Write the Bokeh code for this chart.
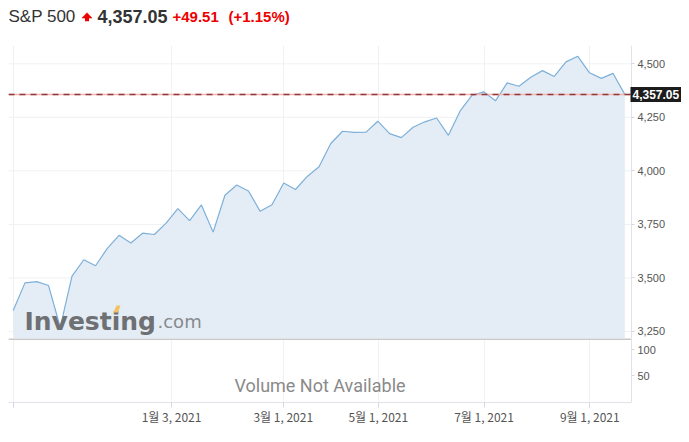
from bokeh.plotting import figure
from bokeh.models import (Range1d, LinearAxis, Grid, FixedTicker, NumeralTickFormatter,
                          Label, PolyAnnotation, ColumnDataSource)
from bokeh.layouts import column
from bokeh.embed import file_html
from bokeh.resources import INLINE

# ---------------- data ----------------
week_index = list(range(53))
close = [3348, 3477, 3483, 3465, 3270, 3509, 3585, 3557, 3638, 3699, 3663, 3709, 3703,
         3756, 3824, 3768, 3841, 3714, 3886, 3934, 3906, 3811, 3842, 3943, 3913, 3974,
         4019, 4128, 4185, 4180, 4181, 4232, 4174, 4155, 4204, 4229, 4247, 4166, 4280,
         4352, 4369, 4327, 4411, 4395, 4437, 4468, 4441, 4509, 4535, 4458, 4432, 4455,
         4357.05]
symbol = "S&P 500"
last_text = "4,357.05"
change_text = "+49.51"
change_pct_text = "(+1.15%)"
last_close = 4357.05
price_ticks = [3250, 3500, 3750, 4000, 4250, 4500]
date_tick_pos = [0, 13.46, 22.96, 31.04, 40.03, 49.02]
date_tick_labels = ["", "1월 3, 2021", "3월 1, 2021", "5월 1, 2021", "7월 1, 2021", "9월 1, 2021"]
volume_ticks = [50, 100]
volume_text = "Volume Not Available"

# ---------------- geometry ----------------
W = 681
LEFT = 8
PX_PER_WEEK = 11.762
XR = Range1d(-0.40, -0.40 + (W - LEFT) / PX_PER_WEEK)
AXIS_X = -0.40 + 623 / PX_PER_WEEK          # price axis sits at the plot's right edge
Y_MAIN = Range1d(3217.3, 4585.4)
Y_VOL = Range1d(-1.9, 121.2)

AXIS_LINE = "#e2e2ea"
GRID = "#f1f1f4"
LABEL_C = "#555555"
RED = "#ee0000"
TEXT_SHIFT = 6   # baseline correction for Label text

def base_fig(height, x_range, y_range, top=0, bottom=0):
    f = figure(width=W, height=height, x_range=x_range, y_range=y_range, title=None,
               x_axis_type=None, y_axis_type=None, toolbar_location=None,
               output_backend="svg", min_border_left=LEFT, min_border_right=0,
               min_border_top=top, min_border_bottom=bottom, outline_line_color=None)
    return f

# ---------------- header ----------------
hdr = base_fig(38, Range1d(LEFT, W), Range1d(38, 0))
hy = 22 - TEXT_SHIFT
hdr.add_layout(Label(x=8, y=hy, text=symbol, text_font="Liberation Sans",
                     text_font_size="17px", text_color="#333333", text_baseline="alphabetic"))
hdr.patch(x=[81.5, 86.5, 91.5], y=[17.6, 12.2, 17.6], fill_color=RED, line_color=RED, line_width=0.5)
hdr.quad(left=84.5, right=88.5, top=17, bottom=20.8, fill_color=RED, line_color=None)
hdr.add_layout(Label(x=97, y=hy, text=last_text, text_font="Liberation Sans",
                     text_font_style="bold", text_font_size="18px", text_color="#333333",
                     text_baseline="alphabetic"))
hdr.add_layout(Label(x=172, y=hy, text=change_text, text_font="Liberation Sans",
                     text_font_style="bold", text_font_size="15px", text_color=RED,
                     text_baseline="alphabetic"))
hdr.add_layout(Label(x=228, y=hy, text=change_pct_text, text_font="Liberation Sans",
                     text_font_style="bold", text_font_size="15px", text_color=RED,
                     text_baseline="alphabetic"))

# ---------------- main price pane ----------------
p = base_fig(300, XR, Y_MAIN, top=7, bottom=0)

p.add_layout(Grid(dimension=0, ticker=FixedTicker(ticks=date_tick_pos), grid_line_color=GRID))
p.segment(x0=XR.start, x1=AXIS_X, y0=price_ticks, y1=price_ticks, line_color=GRID, line_width=1)

src = ColumnDataSource(dict(x=week_index, y=close))
p.varea(x="x", y1=Y_MAIN.start, y2="y", source=src, fill_color="#e4edf5")
p.line(x="x", y="y", source=src, line_color="#7db0d9", line_width=1.2)

ax = LinearAxis(ticker=FixedTicker(ticks=price_ticks), formatter=NumeralTickFormatter(format="0,0"),
                fixed_location=AXIS_X,
                axis_line_color=AXIS_LINE, major_tick_line_color="#d6d6de", major_tick_in=0,
                major_tick_out=3, minor_tick_line_color=None, major_label_text_font="Liberation Sans",
                major_label_text_font_size="11px", major_label_text_color=LABEL_C,
                major_label_standoff=3)
p.add_layout(ax, "right")

p.segment(x0=XR.start, x1=AXIS_X, y0=last_close, y1=last_close, line_color="#f3b3b3", line_width=1.5)
p.segment(x0=XR.start, x1=AXIS_X, y0=last_close, y1=last_close, line_color="#8e3a3a",
          line_width=1.5, line_dash="6 5")

# watermark (page pixel -> data helpers)
def px_x(px):
    return -0.40 + (px - LEFT) / PX_PER_WEEK

def px_y(py):
    return 3250 + (331.0 - py) / 0.2142

p.add_layout(Label(x=px_x(24), y=px_y(327 - TEXT_SHIFT), text="Investing", text_font="DejaVu Sans",
                   text_font_style="bold", text_font_size="25px", text_color="#6e7073",
                   text_baseline="alphabetic"))
p.add_layout(Label(x=px_x(157), y=px_y(327 - TEXT_SHIFT), text=".com", text_font="DejaVu Sans",
                   text_font_size="18px", text_color="#878a8d", text_baseline="alphabetic"))
p.add_layout(PolyAnnotation(xs=[px_x(113), px_x(116), px_x(120), px_x(117.5)],
                            ys=[px_y(312), px_y(305), px_y(305), px_y(312)],
                            fill_color="#f2c160", fill_alpha=1, line_color=None))

p.add_layout(Label(x=AXIS_X, y=last_close, text=last_text, x_offset=-1, text_align="left",
                   text_baseline="middle", text_color="white", text_font="Liberation Sans",
                   text_font_style="bold", text_font_size="12px",
                   background_fill_color="#1c1c1c", padding=(2, 3)))

# ---------------- volume pane ----------------
v = base_fig(92, XR, Y_VOL, top=0, bottom=28)
v.add_layout(Grid(dimension=0, ticker=FixedTicker(ticks=date_tick_pos), grid_line_color=GRID))

vy = LinearAxis(ticker=FixedTicker(ticks=volume_ticks), fixed_location=AXIS_X,
                axis_line_color=AXIS_LINE,
                major_tick_line_color="#d6d6de", major_tick_in=0, major_tick_out=3,
                minor_tick_line_color=None, major_label_text_font="Liberation Sans",
                major_label_text_font_size="11px", major_label_text_color=LABEL_C,
                major_label_standoff=3)
v.add_layout(vy, "right")

bx = LinearAxis(ticker=FixedTicker(ticks=date_tick_pos), bounds=(XR.start, AXIS_X),
                major_label_overrides={t: l for t, l in zip(date_tick_pos, date_tick_labels)},
                axis_line_color=AXIS_LINE, major_tick_line_color="#d6d6de", major_tick_in=0,
                major_tick_out=5, minor_tick_line_color=None,
                major_label_text_font="Noto Sans CJK KR", major_label_text_font_size="12px",
                major_label_text_color=LABEL_C, major_label_standoff=0)
v.add_layout(bx, "below")

v.segment(x0=XR.start, x1=AXIS_X, y0=Y_VOL.end - 0.9, y1=Y_VOL.end - 0.9,
          line_color="#c9c9c9", line_width=2)
v.add_layout(Label(x=px_x(319.5), y=30.8, text=volume_text, text_align="center",
                   text_baseline="middle", text_font="Roboto", text_font_size="18px",
                   text_color="#8a8a8a"))

layout = column(hdr, p, v)
open("out.html", "w").write(file_html(layout, INLINE))
